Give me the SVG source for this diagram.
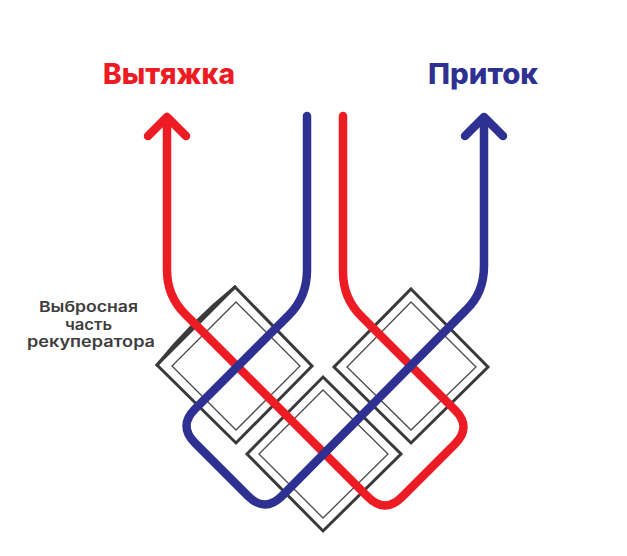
<svg xmlns="http://www.w3.org/2000/svg" width="627" height="556" viewBox="0 0 627 556">
<style>
.outer{fill:none;stroke:#3a3a3a;stroke-width:3;stroke-linejoin:miter}
.inner{fill:none;stroke:#4a4a4a;stroke-width:1.3}
.flow{fill:none;stroke-width:8.5;stroke-linecap:round;stroke-linejoin:round}
.red{stroke:#ed1c24}
.blue{stroke:#2e3192}
.title{font-family:"Inter","Liberation Sans",sans-serif;font-weight:800;font-size:28px}
.note{font-family:"Inter","Liberation Sans",sans-serif;font-weight:600;font-size:15px;fill:#3d3d3d}
</style>
<rect width="627" height="556" fill="#ffffff"/>
<g id="exchanger-left">
<path class="outer" d="M235 287L312 366L236 443L157 365Z"/>
<path class="outer" stroke-linecap="round" d="M157 365Q192 322 235 287"/>
<path class="inner" d="M236 302L300 366L236 430L172 366Z"/>
</g>
<g id="exchanger-right">
<path class="outer" d="M411 289L488 367L411 443L334 367Z"/>
<path class="inner" d="M411 302L476 367L411 430L347 367Z"/>
</g>
<g id="exchanger-bottom">
<path class="outer" d="M323 377L401 454L323 531L247 454Z"/>
<path class="inner" d="M323 390L388 454L323 518L259 454Z"/>
</g>
<g id="connectors">
<path class="flow red" d="M148 136L167 117L186 136M167 117V270Q167 296 185 314L368 497Q385 514 402 497L455 444Q472 427 455 410L361 316Q343 298 343 272V116"/>
<path class="flow blue" d="M465 136L484 117L503 136M484 117V266Q484 293 466 310L282 496Q265 513 248 496L195 443Q178 426 195 409L289 315Q307 297 307 270V116"/>
</g>
<g id="label-exhaust"><text class="title" x="103" y="84" fill="#ed1c24" textLength="132" lengthAdjust="spacingAndGlyphs">Вытяжка</text></g>
<g id="label-supply"><text class="title" x="428" y="84" fill="#2e3192" textLength="110" lengthAdjust="spacingAndGlyphs">Приток</text></g>
<g id="label-note">
<text class="note" x="39" y="312" textLength="99" lengthAdjust="spacingAndGlyphs">Выбросная</text>
<text class="note" x="65" y="329.5" textLength="47" lengthAdjust="spacingAndGlyphs">часть</text>
<text class="note" x="27" y="347" textLength="128" lengthAdjust="spacingAndGlyphs">рекуператора</text>
</g>
</svg>
